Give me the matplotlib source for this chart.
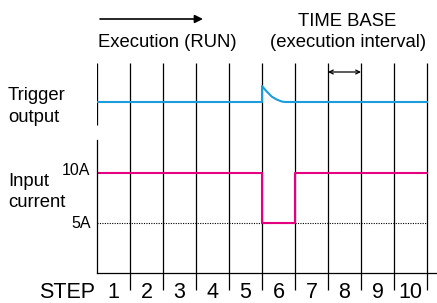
import numpy as np
import matplotlib.pyplot as plt

plt.rcParams['font.family'] = ['Liberation Sans', 'DejaVu Sans']

# Данные диаграммы
steps = [1, 2, 3, 4, 5, 6, 7, 8, 9, 10]
step_edges = np.arange(0, 11)
current_a = [10, 10, 10, 10, 10, 5, 10, 10, 10, 10]
current_ticks = [10, 5]
tick_labels = ['10A', '5A']
# отклик триггерного выхода (шаги, относительный уровень)
trig_x = [0, 5.0, 5.0, 5.08, 5.15, 5.3, 5.45, 5.6, 5.7, 10]
trig_y = [0, 0, 1.0, 0.8, 0.64, 0.33, 0.15, 0.03, 0, 0]

blue = '#1b9ddb'
magenta = '#e4007f'
W, H = 437, 303
x0, step_px = 97, 33.0
x_right = (W - x0) / step_px


def px_axes(fig, left, top, right, bottom):
    return fig.add_axes([left / W, 1 - bottom / H, (right - left) / W, (bottom - top) / H])


fig = plt.figure(figsize=(W / 100, H / 100), dpi=100)

# Фоновые оси для подписей (координаты в пикселях)
ax = fig.add_axes([0, 0, 1, 1])
ax.set_xlim(0, W)
ax.set_ylim(H, 0)
ax.axis('off')

# Основные оси: шаги по x
ax_main = px_axes(fig, x0, 0, W, H)
ax_main.set_xlim(0, x_right)
ax_main.set_ylim(H, 0)
ax_main.axis('off')
ax_main.patch.set_alpha(0)
ax_main.vlines(step_edges[1:], 63, 290, color='black', lw=0.9)
ax_main.vlines(0, 63, 125, color='black', lw=0.9)

# Триггерный выход
ax_trig = px_axes(fig, x0, 63, W, 125)
ax_trig.set_xlim(0, x_right)
ax_trig.set_ylim(-23 / 16, 39 / 16)
ax_trig.axis('off')
ax_trig.patch.set_alpha(0)
ax_trig.plot(trig_x, trig_y, color=blue, lw=1.5, solid_joinstyle='round')

# Входной ток
ax_cur = px_axes(fig, x0, 140, W, 273)
ax_cur.set_xlim(0, x_right)
ax_cur.set_ylim(0, 13.3)
ax_cur.patch.set_alpha(0)
for s in ['top', 'right']:
    ax_cur.spines[s].set_visible(False)
ax_cur.spines['left'].set_linewidth(0.9)
ax_cur.spines['bottom'].set_linewidth(0.9)
ax_cur.set_xticks([])
ax_cur.set_yticks([])
ax_cur.hlines(5, 0, 10, color='black', lw=0.8, linestyles=(0, (1, 1.2)))
ax_cur.step(step_edges, current_a + [current_a[-1]], where='post', color=magenta, lw=1.5)

# Подписи уровней тока
for val, lab, dy in zip(current_ticks, tick_labels, [-0.2, -0.5]):
    ax_cur.text(-0.2, val + dy, lab, ha='right', va='baseline', fontsize=11.5)

# Номера шагов
for s in steps:
    ax_main.text(s - 0.5, 298, str(s), ha='center', va='baseline', fontsize=15.5)
ax.text(95, 298, 'STEP', ha='right', va='baseline', fontsize=15.5)

# Подписи слева
ax.text(8, 100, 'Trigger', va='baseline', fontsize=13.3)
ax.text(8, 122, 'output', va='baseline', fontsize=13.3)
ax.text(8, 186, 'Input', va='baseline', fontsize=13.3)
ax.text(8, 207, 'current', va='baseline', fontsize=13.3)

# Верхние подписи и стрелки
ax.annotate('', xy=(203, 19), xytext=(100, 19),
            arrowprops=dict(arrowstyle='-|>', color='black', lw=1.2, mutation_scale=12,
                            shrinkA=0, shrinkB=0))
ax.text(98, 47, 'Execution (RUN)', va='baseline', fontsize=13.3)
ax.text(347, 26, 'TIME BASE', ha='center', va='baseline', fontsize=13.3)
ax.text(348, 47, '(execution interval)', ha='center', va='baseline', fontsize=13.3)
ax_main.annotate('', xy=(8, 72), xytext=(7, 72),
                 arrowprops=dict(arrowstyle='<->', color='black', lw=0.9, mutation_scale=7,
                                 shrinkA=0, shrinkB=0))

plt.savefig('out.png', dpi=100)
